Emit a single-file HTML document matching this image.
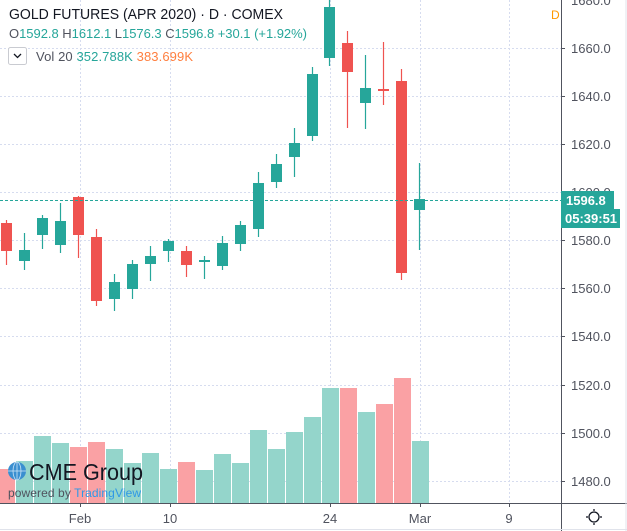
<!DOCTYPE html>
<html><head><meta charset="utf-8"><style>
body{margin:0;background:#fff;}
svg{display:block;font-family:"Liberation Sans",sans-serif;}
</style></head><body>
<svg width="627" height="531" viewBox="0 0 627 531">
<rect width="627" height="531" fill="#fff"/>
<g stroke="#d6dcef" stroke-dasharray="2,2" stroke-width="1">
<line x1="0" y1="48.5" x2="561" y2="48.5"/>
<line x1="0" y1="96.5" x2="561" y2="96.5"/>
<line x1="0" y1="144.5" x2="561" y2="144.5"/>
<line x1="0" y1="192.5" x2="561" y2="192.5"/>
<line x1="0" y1="240.5" x2="561" y2="240.5"/>
<line x1="0" y1="288.5" x2="561" y2="288.5"/>
<line x1="0" y1="336.5" x2="561" y2="336.5"/>
<line x1="0" y1="385.5" x2="561" y2="385.5"/>
<line x1="0" y1="433.5" x2="561" y2="433.5"/>
<line x1="0" y1="481.5" x2="561" y2="481.5"/>
<line x1="80.5" y1="0" x2="80.5" y2="503"/>
<line x1="170.5" y1="0" x2="170.5" y2="503"/>
<line x1="330.5" y1="0" x2="330.5" y2="503"/>
<line x1="420.5" y1="0" x2="420.5" y2="503"/>
<line x1="509.5" y1="0" x2="509.5" y2="503"/>
</g>
<g>
<rect x="0" y="469" width="15" height="34" fill="#faa1a4"/>
<rect x="16" y="461" width="17" height="42" fill="#94d5cb"/>
<rect x="34" y="436" width="17" height="67" fill="#94d5cb"/>
<rect x="52" y="443" width="17" height="60" fill="#94d5cb"/>
<rect x="70" y="447" width="17" height="56" fill="#faa1a4"/>
<rect x="88" y="442" width="17" height="61" fill="#faa1a4"/>
<rect x="106" y="449" width="17" height="54" fill="#94d5cb"/>
<rect x="124" y="463" width="17" height="40" fill="#94d5cb"/>
<rect x="142" y="453" width="17" height="50" fill="#94d5cb"/>
<rect x="160" y="469" width="17" height="34" fill="#94d5cb"/>
<rect x="178" y="462" width="17" height="41" fill="#faa1a4"/>
<rect x="196" y="470" width="17" height="33" fill="#94d5cb"/>
<rect x="214" y="454" width="17" height="49" fill="#94d5cb"/>
<rect x="232" y="463" width="17" height="40" fill="#94d5cb"/>
<rect x="250" y="430" width="17" height="73" fill="#94d5cb"/>
<rect x="268" y="449" width="17" height="54" fill="#94d5cb"/>
<rect x="286" y="432" width="17" height="71" fill="#94d5cb"/>
<rect x="304" y="417" width="17" height="86" fill="#94d5cb"/>
<rect x="322" y="388" width="17" height="115" fill="#94d5cb"/>
<rect x="340" y="388" width="17" height="115" fill="#faa1a4"/>
<rect x="358" y="412" width="17" height="91" fill="#94d5cb"/>
<rect x="376" y="404" width="17" height="99" fill="#faa1a4"/>
<rect x="394" y="378" width="17" height="125" fill="#faa1a4"/>
<rect x="412" y="441" width="17" height="62" fill="#94d5cb"/>
</g>
<g stroke-width="1.2">
<g stroke="#ef5350" fill="#ef5350"><line x1="6.5" y1="220" x2="6.5" y2="265"/><rect x="1" y="223" width="11" height="28" stroke="none"/></g>
<g stroke="#26a69a" fill="#26a69a"><line x1="24.5" y1="233" x2="24.5" y2="270"/><rect x="19" y="250" width="11" height="11" stroke="none"/></g>
<g stroke="#26a69a" fill="#26a69a"><line x1="42.5" y1="215" x2="42.5" y2="249"/><rect x="37" y="218" width="11" height="17" stroke="none"/></g>
<g stroke="#26a69a" fill="#26a69a"><line x1="60.5" y1="203" x2="60.5" y2="253"/><rect x="55" y="221" width="11" height="24" stroke="none"/></g>
<g stroke="#ef5350" fill="#ef5350"><line x1="78.5" y1="196" x2="78.5" y2="258"/><rect x="73" y="197" width="11" height="38" stroke="none"/></g>
<g stroke="#ef5350" fill="#ef5350"><line x1="96.5" y1="229" x2="96.5" y2="306"/><rect x="91" y="237" width="11" height="64" stroke="none"/></g>
<g stroke="#26a69a" fill="#26a69a"><line x1="114.5" y1="274" x2="114.5" y2="311"/><rect x="109" y="282" width="11" height="17" stroke="none"/></g>
<g stroke="#26a69a" fill="#26a69a"><line x1="132.5" y1="260" x2="132.5" y2="299"/><rect x="127" y="264" width="11" height="25" stroke="none"/></g>
<g stroke="#26a69a" fill="#26a69a"><line x1="150.5" y1="246" x2="150.5" y2="281"/><rect x="145" y="256" width="11" height="8" stroke="none"/></g>
<g stroke="#26a69a" fill="#26a69a"><line x1="168.5" y1="239" x2="168.5" y2="262"/><rect x="163" y="241" width="11" height="10" stroke="none"/></g>
<g stroke="#ef5350" fill="#ef5350"><line x1="186.5" y1="246" x2="186.5" y2="277"/><rect x="181" y="251" width="11" height="14" stroke="none"/></g>
<g stroke="#26a69a" fill="#26a69a"><line x1="204.5" y1="256" x2="204.5" y2="279"/><rect x="199" y="260" width="11" height="2" stroke="none"/></g>
<g stroke="#26a69a" fill="#26a69a"><line x1="222.5" y1="236" x2="222.5" y2="270"/><rect x="217" y="243" width="11" height="23" stroke="none"/></g>
<g stroke="#26a69a" fill="#26a69a"><line x1="240.5" y1="221" x2="240.5" y2="251"/><rect x="235" y="225" width="11" height="19" stroke="none"/></g>
<g stroke="#26a69a" fill="#26a69a"><line x1="258.5" y1="172" x2="258.5" y2="237"/><rect x="253" y="183" width="11" height="46" stroke="none"/></g>
<g stroke="#26a69a" fill="#26a69a"><line x1="276.5" y1="154" x2="276.5" y2="188"/><rect x="271" y="164" width="11" height="18" stroke="none"/></g>
<g stroke="#26a69a" fill="#26a69a"><line x1="294.5" y1="128" x2="294.5" y2="177"/><rect x="289" y="143" width="11" height="14" stroke="none"/></g>
<g stroke="#26a69a" fill="#26a69a"><line x1="312.5" y1="67" x2="312.5" y2="141"/><rect x="307" y="74" width="11" height="62" stroke="none"/></g>
<g stroke="#26a69a" fill="#26a69a"><line x1="329.5" y1="0" x2="329.5" y2="66"/><rect x="324" y="7" width="11" height="51" stroke="none"/></g>
<g stroke="#ef5350" fill="#ef5350"><line x1="347.5" y1="31" x2="347.5" y2="128"/><rect x="342" y="43" width="11" height="29" stroke="none"/></g>
<g stroke="#26a69a" fill="#26a69a"><line x1="365.5" y1="55" x2="365.5" y2="129"/><rect x="360" y="88" width="11" height="15" stroke="none"/></g>
<g stroke="#ef5350" fill="#ef5350"><line x1="383.5" y1="42" x2="383.5" y2="105"/><rect x="378" y="89" width="11" height="2" stroke="none"/></g>
<g stroke="#ef5350" fill="#ef5350"><line x1="401.5" y1="69" x2="401.5" y2="280"/><rect x="396" y="81" width="11" height="192" stroke="none"/></g>
<g stroke="#26a69a" fill="#26a69a"><line x1="419.5" y1="163" x2="419.5" y2="250"/><rect x="414" y="199" width="11" height="11" stroke="none"/></g>
</g>
<line x1="0" y1="200.5" x2="561" y2="200.5" stroke="#26a69a" stroke-dasharray="3,2" stroke-width="1"/>
<line x1="561.5" y1="0" x2="561.5" y2="531" stroke="#50535e"/>
<line x1="0" y1="503.5" x2="627" y2="503.5" stroke="#50535e"/>
<line x1="0" y1="529.5" x2="627" y2="529.5" stroke="#e0e3eb"/>
<line x1="626" y1="0" x2="626" y2="531" stroke="#e0e3eb"/>
<g fill="#50535e" font-size="13">
<text x="571" y="5">1680.0</text>
<text x="571" y="53">1660.0</text>
<text x="571" y="101">1640.0</text>
<text x="571" y="149">1620.0</text>
<text x="571" y="197">1600.0</text>
<text x="571" y="245">1580.0</text>
<text x="571" y="293">1560.0</text>
<text x="571" y="341">1540.0</text>
<text x="571" y="390">1520.0</text>
<text x="571" y="438">1500.0</text>
<text x="571" y="486">1480.0</text>
</g>
<g stroke="#50535e"><line x1="561" y1="48.5" x2="565" y2="48.5"/><line x1="561" y1="96.5" x2="565" y2="96.5"/><line x1="561" y1="144.5" x2="565" y2="144.5"/><line x1="561" y1="240.5" x2="565" y2="240.5"/><line x1="561" y1="288.5" x2="565" y2="288.5"/><line x1="561" y1="336.5" x2="565" y2="336.5"/><line x1="561" y1="385.5" x2="565" y2="385.5"/><line x1="561" y1="433.5" x2="565" y2="433.5"/><line x1="561" y1="481.5" x2="565" y2="481.5"/>
<line x1="80.5" y1="503" x2="80.5" y2="507"/><line x1="170.5" y1="503" x2="170.5" y2="507"/><line x1="330.5" y1="503" x2="330.5" y2="507"/><line x1="420.5" y1="503" x2="420.5" y2="507"/><line x1="509.5" y1="503" x2="509.5" y2="507"/></g>
<rect x="561" y="191" width="53" height="18" fill="#26a69a"/>
<text x="566" y="205" fill="#fff" font-size="13" font-weight="bold">1596.8</text>
<rect x="561" y="209" width="59" height="19" fill="#26a69a"/>
<text x="565" y="223" fill="#fff" font-size="13" font-weight="bold">05:39:51</text>
<g fill="#50535e" font-size="13" text-anchor="middle">
<text x="80" y="523">Feb</text><text x="170" y="523">10</text><text x="330" y="523">24</text><text x="420" y="523">Mar</text><text x="509" y="523">9</text>
</g>
<g stroke="#131722" fill="none" stroke-width="1.3"><circle cx="594" cy="517" r="5"/><line x1="594" y1="509" x2="594" y2="511"/><line x1="594" y1="523" x2="594" y2="525"/><line x1="586" y1="517" x2="588" y2="517"/><line x1="600" y1="517" x2="602" y2="517"/></g>
<text x="9" y="19" font-size="14.5" fill="#131722" textLength="274" lengthAdjust="spacingAndGlyphs">GOLD FUTURES (APR 2020) · D · COMEX</text>
<text x="551" y="19" font-size="12" fill="#ff9800">D</text>
<text x="9" y="38" font-size="13" fill="#26a69a" textLength="298" lengthAdjust="spacing"><tspan fill="#50535e">O</tspan>1592.8  <tspan fill="#50535e">H</tspan>1612.1  <tspan fill="#50535e">L</tspan>1576.3  <tspan fill="#50535e">C</tspan>1596.8  +30.1 (+1.92%)</text>
<rect x="8.5" y="47.5" width="18" height="17" rx="2" fill="#fff" stroke="#c9cbd1"/>
<path d="M14 54 L17.5 57.5 L21 54" fill="none" stroke="#131722" stroke-width="1.3"/>
<text x="36" y="61" font-size="13" fill="#50535e" textLength="157" lengthAdjust="spacing">Vol 20  <tspan fill="#26a69a">352.788K</tspan>  <tspan fill="#ff7f3f">383.699K</tspan></text>
<circle cx="17" cy="471" r="9" fill="#3a8fd0"/>
<g stroke="#cfe6f7" stroke-width="0.8" fill="none"><ellipse cx="17" cy="471" rx="4" ry="9"/><line x1="8" y1="471" x2="26" y2="471"/><line x1="17" y1="462" x2="17" y2="480"/></g>
<text x="29" y="480" font-size="23" fill="#131722" textLength="114" lengthAdjust="spacingAndGlyphs">CME Group</text>
<text x="8" y="497" font-size="12" fill="#50535e" textLength="133" lengthAdjust="spacing">powered by <tspan fill="#2f98e6">TradingView</tspan></text>
</svg>
</body></html>
